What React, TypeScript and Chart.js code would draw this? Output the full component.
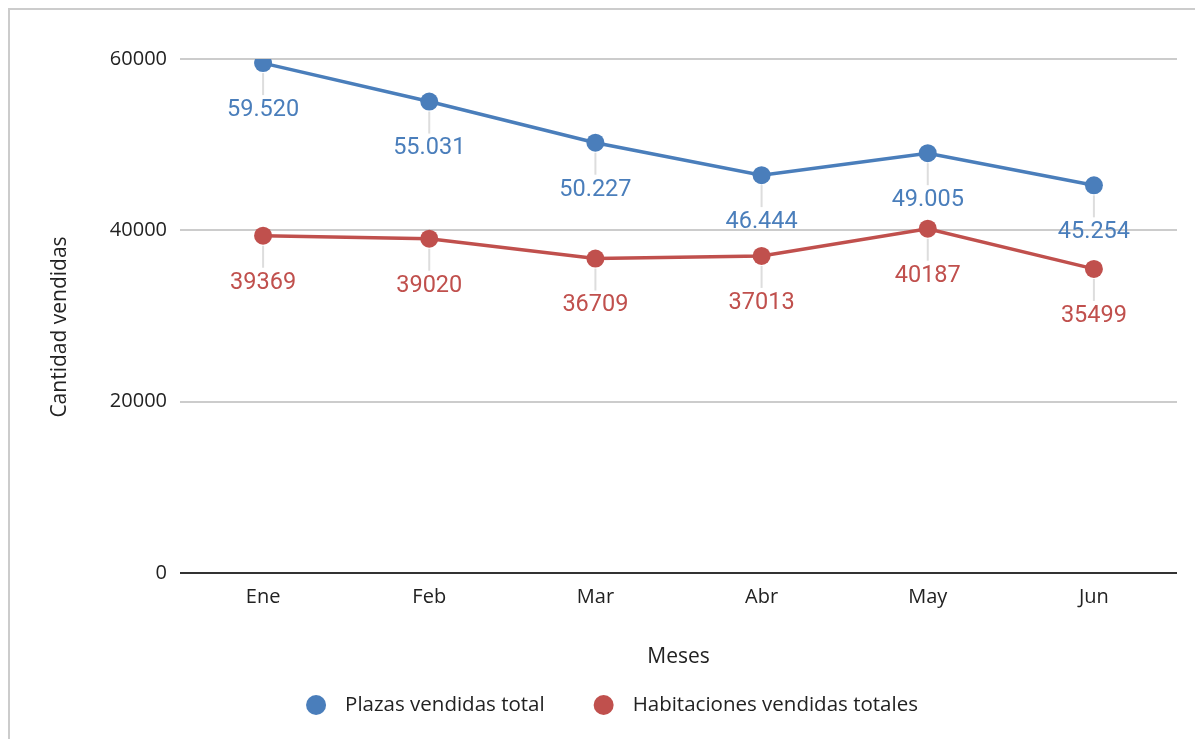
import React, { useEffect, useRef } from "react";
import { Chart, registerables } from "chart.js";

Chart.register(...registerables);

const categories = ["Ene", "Feb", "Mar", "Abr", "May", "Jun"];
const plazas = [59520, 55031, 50227, 46444, 49005, 45254];
const habitaciones = [39369, 39020, 36709, 37013, 40187, 35499];
const seriesNames = ["Plazas vendidas total", "Habitaciones vendidas totales"];
const yTickValues = [0, 20000, 40000, 60000];
const xTitle = "Meses";
const yTitle = "Cantidad vendidas";

const BLUE = "#4a7ebb";
const RED = "#c0504d";
const TEXT = "#222222";
const AXIS_FONT = "'Open Sans', sans-serif";
const LABEL_FONT = "Roboto, sans-serif";

const withDots = (v: number) => String(v).replace(/\B(?=(\d{3})+(?!\d))/g, ".");
const labelFormatters = [withDots, (v: number) => String(v)];

const overlayPlugin = {
  id: "overlay",
  afterDatasetsDraw(chart: any) {
    const ctx = chart.ctx;
    chart.data.datasets.forEach((ds: any, i: number) => {
      const meta = chart.getDatasetMeta(i);
      meta.data.forEach((pt: any, j: number) => {
        const { x, y } = pt;
        ctx.save();
        ctx.strokeStyle = "#dddddd";
        ctx.lineWidth = 2;
        ctx.beginPath();
        ctx.moveTo(x, y + 10);
        ctx.lineTo(x, y + 32);
        ctx.stroke();
        ctx.fillStyle = ds.borderColor;
        ctx.font = `23.5px ${LABEL_FONT}`;
        ctx.textAlign = "center";
        ctx.textBaseline = "middle";
        ctx.fillText(labelFormatters[i](ds.data[j]), x, y + 47);
        ctx.restore();
      });
    });
  },
  afterDraw(chart: any) {
    const ctx = chart.ctx;
    const area = chart.chartArea;
    ctx.save();
    ctx.fillStyle = TEXT;
    ctx.font = `21px ${AXIS_FONT}`;
    ctx.textAlign = "center";
    ctx.textBaseline = "middle";
    // x axis title
    ctx.fillText(xTitle, (area.left + area.right) / 2, 647);
    // y axis title
    ctx.save();
    ctx.translate(50, 317);
    ctx.rotate(-Math.PI / 2);
    ctx.fillText(yTitle, 0, 0);
    ctx.restore();
    // legend
    ctx.font = `20.5px ${AXIS_FONT}`;
    ctx.textAlign = "left";
    const r = 10;
    const textGap = 29;
    const itemGap = 49;
    const widths = seriesNames.map((n) => ctx.measureText(n).width);
    let total = 0;
    widths.forEach((w, i) => {
      total += r + textGap + w + (i < widths.length - 1 ? itemGap : 0);
    });
    let x = 602 - total / 2;
    const ly = 695;
    chart.data.datasets.forEach((ds: any, i: number) => {
      ctx.fillStyle = ds.borderColor;
      ctx.beginPath();
      ctx.arc(x + r, ly, r, 0, Math.PI * 2);
      ctx.fill();
      ctx.fillStyle = TEXT;
      ctx.fillText(seriesNames[i], x + r + textGap, ly);
      x += r + textGap + widths[i] + itemGap;
    });
    ctx.restore();
  },
};

export default function App() {
  const ref = useRef<HTMLCanvasElement>(null);
  useEffect(() => {
    if (!ref.current) return;
    const chart = new Chart(ref.current, {
      type: "line",
      data: {
        labels: categories,
        datasets: [
          {
            label: seriesNames[0],
            data: plazas,
            borderColor: BLUE,
            backgroundColor: BLUE,
            borderWidth: 3.5,
            pointRadius: 9,
            pointHoverRadius: 9,
            pointBorderWidth: 0,
            tension: 0,
          },
          {
            label: seriesNames[1],
            data: habitaciones,
            borderColor: RED,
            backgroundColor: RED,
            borderWidth: 3.5,
            pointRadius: 9,
            pointHoverRadius: 9,
            pointBorderWidth: 0,
            tension: 0,
          },
        ],
      },
      options: {
        responsive: false,
        animation: false,
        layout: { padding: { top: 49, right: 18, left: 0, bottom: 0 } },
        plugins: {
          legend: { display: false },
          tooltip: { enabled: false },
        },
        scales: {
          x: {
            offset: true,
            grid: { display: false, drawTicks: false },
            border: { display: false },
            ticks: {
              color: TEXT,
              font: { family: AXIS_FONT, size: 20 },
              padding: 12,
            },
            afterFit: (scale: any) => {
              scale.height = 166;
            },
          },
          y: {
            min: 0,
            max: 60000,
            afterBuildTicks: (scale: any) => {
              scale.ticks = yTickValues.map((v) => ({ value: v }));
            },
            grid: {
              drawTicks: false,
              lineWidth: 2,
              color: (c: any) => (c.tick && c.tick.value === 0 ? "#333333" : "#cccccc"),
            },
            border: { display: false },
            ticks: {
              color: TEXT,
              font: { family: AXIS_FONT, size: 20 },
              padding: 13,
              callback: (v: any) => String(v),
            },
            afterFit: (scale: any) => {
              scale.width = 170;
            },
          },
        },
      },
      plugins: [overlayPlugin],
    });
    return () => chart.destroy();
  }, []);
  return (
    <div
      style={{
        borderLeft: "2px solid #cccccc",
        borderTop: "2px solid #cccccc",
        width: 1185,
        height: 729,
        background: "#fff",
      }}
    >
      <canvas ref={ref} width={1185} height={729} style={{ display: "block" }} />
    </div>
  );
}
